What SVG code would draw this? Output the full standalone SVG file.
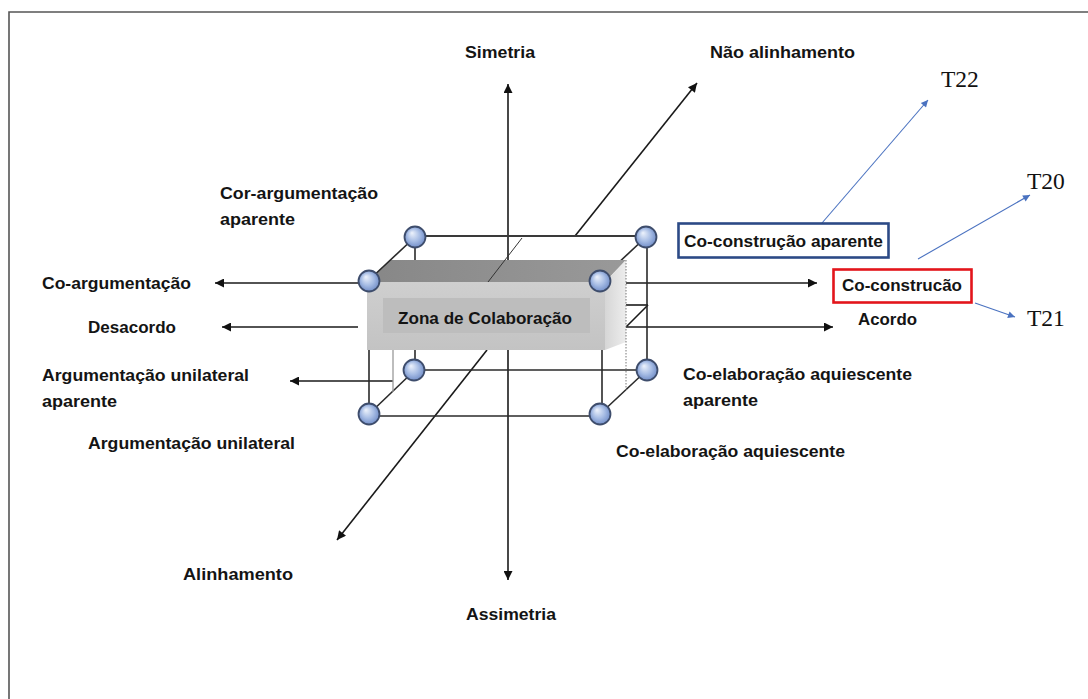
<svg xmlns="http://www.w3.org/2000/svg" width="1088" height="699" viewBox="0 0 1088 699">
<style>
.lbl{font-family:"Liberation Sans",Arial,sans-serif;font-weight:bold;font-size:17px;fill:#141414}
.tl{font-family:"Liberation Serif","Times New Roman",serif;font-size:23.5px;fill:#111}
.ax{stroke:#1a1a1a;stroke-width:1.6;fill:none}
.ed{stroke:#2a2a2a;stroke-width:1.6;fill:none}
.bl{stroke:#4a72c0;stroke-width:1.1;fill:none}
.sp{fill:url(#sg);stroke:#3e4d6c;stroke-width:1.8}
</style>
<defs>
<marker id="ah" viewBox="0 0 10 10" refX="10" refY="5" markerWidth="11" markerHeight="9" markerUnits="userSpaceOnUse" orient="auto"><path d="M0,0 L10,5 L0,10 z" fill="#111"/></marker>
<marker id="bh" viewBox="0 0 10 10" refX="10" refY="5" markerWidth="9" markerHeight="7" markerUnits="userSpaceOnUse" orient="auto"><path d="M0,0 L10,5 L0,10 z" fill="#4a72c0"/></marker>
<radialGradient id="sg" cx="50%" cy="50%" r="55%" fx="35%" fy="30%">
<stop offset="0" stop-color="#eef3fc"/>
<stop offset="0.55" stop-color="#a6bce4"/>
<stop offset="1" stop-color="#6a87c4"/>
</radialGradient>
<linearGradient id="fg" x1="0" y1="0" x2="0" y2="1">
<stop offset="0" stop-color="#cfcfcf"/>
<stop offset="1" stop-color="#c3c3c3"/>
</linearGradient>
<linearGradient id="tg" x1="0" y1="0" x2="1" y2="0">
<stop offset="0" stop-color="#878787"/>
<stop offset="1" stop-color="#999"/>
</linearGradient>
<linearGradient id="rg" x1="0" y1="0" x2="1" y2="0">
<stop offset="0" stop-color="#d6d6d6"/>
<stop offset="1" stop-color="#ededed"/>
</linearGradient>
</defs>
<rect width="1088" height="699" fill="#fff"/>
<path d="M1090,12 H9 V702" fill="none" stroke="#555" stroke-width="1.6"/>

<g id="connectors">
<line class="ax" x1="508" y1="265" x2="508" y2="84" marker-end="url(#ah)"/>
<line class="ax" x1="508" y1="345" x2="508" y2="580" marker-end="url(#ah)"/>
<line class="ax" x1="575" y1="236" x2="697" y2="83" marker-end="url(#ah)"/>
<line class="ax" x1="487" y1="350" x2="337" y2="540" marker-end="url(#ah)"/>
<line class="ax" x1="369" y1="283" x2="215" y2="283" marker-end="url(#ah)"/>
<line class="ax" x1="358" y1="327" x2="222" y2="327" marker-end="url(#ah)"/>
<line class="ax" x1="393" y1="381" x2="290" y2="381" marker-end="url(#ah)"/>
<line class="ax" x1="600" y1="283" x2="817" y2="283" marker-end="url(#ah)"/>
<line class="ax" x1="626" y1="327" x2="833" y2="327" marker-end="url(#ah)"/>
<line class="ax" x1="626" y1="305" x2="648" y2="305"/>
<line class="ax" x1="626" y1="327" x2="648" y2="305"/>
<line class="bl" x1="822" y1="223" x2="928" y2="100" marker-end="url(#bh)"/>
<line class="bl" x1="918" y1="259" x2="1030" y2="195" marker-end="url(#bh)"/>
<line class="bl" x1="975" y1="303" x2="1015" y2="317" marker-end="url(#bh)"/>
</g>

<g id="cube-edges">
<line x1="415" y1="236" x2="646" y2="236" stroke="#3a3a3a" stroke-width="2"/>
<line class="ed" x1="415" y1="237" x2="415" y2="370"/>
<line class="ed" x1="647" y1="237" x2="647" y2="370"/>
<line class="ed" x1="369" y1="280" x2="369" y2="416"/>
<line class="ed" x1="602" y1="280" x2="602" y2="416"/>
<line class="ed" x1="646" y1="237" x2="600" y2="280"/>
<line class="ed" x1="415" y1="370" x2="647" y2="370"/>
<line class="ed" x1="369" y1="416" x2="600" y2="416"/>
<line class="ed" x1="415" y1="370" x2="369" y2="414"/>
<line class="ed" x1="647" y1="370" x2="600" y2="414"/>
<line x1="393" y1="350" x2="393" y2="392" stroke="#9a9a9a" stroke-width="1.3"/>
</g>

<g id="zona-colaboracao">
<polygon points="390,260 626,260 605,282 367,282" fill="url(#tg)"/>
<polygon points="605,282 626,260 626,342 605,350" fill="url(#rg)"/>
<rect x="367" y="282" width="238" height="68" fill="url(#fg)"/>
<rect x="383" y="298" width="207" height="35" fill="#bdbdbd"/>
<line x1="522" y1="238" x2="488" y2="282" stroke="#333" stroke-width="1"/>
<line x1="626" y1="260" x2="626" y2="390" stroke="#777" stroke-width="1" stroke-dasharray="1.5 1.5"/>
<line class="ed" x1="369" y1="280" x2="415" y2="237"/>
<text class="lbl" x="398" y="324" textLength="174" lengthAdjust="spacingAndGlyphs">Zona de Colaboração</text>
</g>

<g id="vertices">
<circle class="sp" cx="415" cy="237" r="10.5"/>
<circle class="sp" cx="646" cy="237" r="10.5"/>
<circle class="sp" cx="369" cy="281" r="10.5"/>
<circle class="sp" cx="600" cy="281" r="10.5"/>
<circle class="sp" cx="414" cy="370" r="10.5"/>
<circle class="sp" cx="647" cy="370" r="10.5"/>
<circle class="sp" cx="369" cy="414" r="10.5"/>
<circle class="sp" cx="600" cy="414" r="10.5"/>
</g>

<g id="label-simetria"><text class="lbl" x="465" y="58" textLength="70" lengthAdjust="spacingAndGlyphs">Simetria</text></g>
<g id="label-nao-alinhamento"><text class="lbl" x="710" y="58" textLength="145" lengthAdjust="spacingAndGlyphs">Não alinhamento</text></g>
<g id="label-cor-argumentacao-aparente">
<text class="lbl" x="220" y="199" textLength="158" lengthAdjust="spacingAndGlyphs">Cor-argumentação</text>
<text class="lbl" x="220" y="225" textLength="75" lengthAdjust="spacingAndGlyphs">aparente</text>
</g>
<g id="label-co-argumentacao"><text class="lbl" x="42" y="289" textLength="149" lengthAdjust="spacingAndGlyphs">Co-argumentação</text></g>
<g id="label-desacordo"><text class="lbl" x="88" y="333" textLength="88" lengthAdjust="spacingAndGlyphs">Desacordo</text></g>
<g id="label-arg-unilateral-aparente">
<text class="lbl" x="42" y="381" textLength="207" lengthAdjust="spacingAndGlyphs">Argumentação unilateral</text>
<text class="lbl" x="42" y="407" textLength="75" lengthAdjust="spacingAndGlyphs">aparente</text>
</g>
<g id="label-arg-unilateral"><text class="lbl" x="88" y="449" textLength="207" lengthAdjust="spacingAndGlyphs">Argumentação unilateral</text></g>
<g id="label-alinhamento"><text class="lbl" x="183" y="580" textLength="110" lengthAdjust="spacingAndGlyphs">Alinhamento</text></g>
<g id="label-assimetria"><text class="lbl" x="466" y="620" textLength="90" lengthAdjust="spacingAndGlyphs">Assimetria</text></g>
<g id="node-co-construcao-aparente">
<rect x="678.5" y="223.5" width="210" height="34" fill="none" stroke="#2c4a86" stroke-width="2.6"/>
<text class="lbl" x="684" y="247" textLength="199" lengthAdjust="spacingAndGlyphs">Co-construção aparente</text>
</g>
<g id="node-co-construcao">
<rect x="833.5" y="269.5" width="138" height="33" fill="none" stroke="#e3151b" stroke-width="2.6"/>
<text class="lbl" x="842" y="291" textLength="120" lengthAdjust="spacingAndGlyphs">Co-construcão</text>
</g>
<g id="label-acordo"><text class="lbl" x="858" y="325" textLength="59" lengthAdjust="spacingAndGlyphs">Acordo</text></g>
<g id="label-co-elab-aquiescente-aparente">
<text class="lbl" x="683" y="380" textLength="229" lengthAdjust="spacingAndGlyphs">Co-elaboração aquiescente</text>
<text class="lbl" x="683" y="406" textLength="75" lengthAdjust="spacingAndGlyphs">aparente</text>
</g>
<g id="label-co-elab-aquiescente"><text class="lbl" x="616" y="457" textLength="229" lengthAdjust="spacingAndGlyphs">Co-elaboração aquiescente</text></g>
<g id="t22"><text class="tl" x="941" y="87">T22</text></g>
<g id="t20"><text class="tl" x="1027" y="189">T20</text></g>
<g id="t21"><text class="tl" x="1027" y="326">T21</text></g>
</svg>
